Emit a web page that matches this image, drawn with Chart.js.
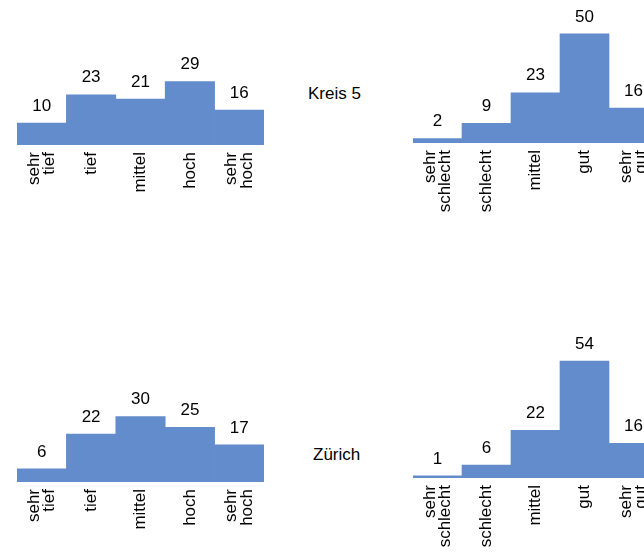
<!DOCTYPE html>
<html>
<head>
<meta charset="utf-8">
<script src="https://cdn.jsdelivr.net/npm/chart.js@4"></script>
<style>
  html, body { margin: 0; padding: 0; background: #fff; overflow: hidden; }
  body { position: relative; width: 644px; height: 558px; font-family: "Liberation Sans", Arial, sans-serif; }
  canvas { position: absolute; }
  .place { position: absolute; font-size: 17px; line-height: 20px; color: #000; }
</style>
</head>
<body>
<canvas id="kreisLeft" width="280" height="225" style="left:0;top:0"></canvas>
<canvas id="kreisRight" width="260" height="223" style="left:400px;top:0"></canvas>
<canvas id="zhLeft" width="280" height="242" style="left:0;top:320px"></canvas>
<canvas id="zhRight" width="260" height="238" style="left:400px;top:320px"></canvas>
<div class="place" style="left:308px;top:84px">Kreis 5</div>
<div class="place" style="left:313px;top:445px">Zürich</div>

<script>
// categories
const levelLabels = [["sehr", "tief"], "tief", "mittel", "hoch", ["sehr", "hoch"]];
const ratingLabels = [["sehr", "schlecht"], "schlecht", "mittel", "gut", ["sehr", "gut"]];

// percentages
const kreis5Level = [10, 23, 21, 29, 16];
const kreis5Rating = [2, 9, 23, 50, 16];
const zuerichLevel = [6, 22, 30, 25, 17];
const zuerichRating = [1, 6, 22, 54, 16];

const FONT = "'Liberation Sans', Arial, sans-serif";
const BAR = "rgb(99, 140, 204)";
const LINE_H = 15.3;

// value above each bar
const valueLabels = {
  id: "valueLabels",
  afterDatasetsDraw(chart) {
    const ctx = chart.ctx;
    const meta = chart.getDatasetMeta(0);
    const values = chart.data.datasets[0].data;
    ctx.save();
    ctx.font = "17px " + FONT;
    ctx.fillStyle = "#000";
    ctx.textAlign = "center";
    ctx.textBaseline = "middle";
    meta.data.forEach((bar, i) => {
      ctx.fillText(values[i], bar.x, bar.y - 17);
    });
    ctx.restore();
  },
};

// center two-line rotated labels on their tick
const centerLines = {
  id: "centerLines",
  beforeDraw(chart) {
    const sc = chart.scales.x;
    sc.getLabelItems(chart.chartArea).forEach((it) => {
      if (Array.isArray(it.label)) {
        it.options.translation[0] -= ((it.label.length - 1) * LINE_H) / 2;
      }
    });
  },
};

function makeChart(id, labels, values, pad) {
  const ctx = document.getElementById(id).getContext("2d");
  return new Chart(ctx, {
    type: "bar",
    data: {
      labels: labels,
      datasets: [
        {
          data: values,
          backgroundColor: BAR,
          borderWidth: 0,
          barPercentage: 1,
          categoryPercentage: 1,
        },
      ],
    },
    options: {
      responsive: false,
      animation: false,
      layout: { padding: pad },
      plugins: { legend: { display: false }, tooltip: { enabled: false } },
      scales: {
        x: {
          grid: { display: false, drawTicks: false },
          border: { display: false },
          afterFit: (s) => {
            s.height = 80;
            s.paddingLeft = 0;
            s.paddingRight = 0;
          },
          ticks: {
            autoSkip: false,
            maxRotation: 90,
            minRotation: 90,
            padding: 7,
            color: "#000",
            font: { family: FONT, size: 17, lineHeight: 0.9 },
          },
        },
        y: { display: false, min: 0, max: 60 },
      },
    },
    plugins: [valueLabels, centerLines],
  });
}

makeChart("kreisLeft", levelLabels, kreis5Level, { left: 17, right: 16, top: 14, bottom: 0 });
makeChart("kreisRight", ratingLabels, kreis5Rating, { left: 13, right: 2, top: 12, bottom: 0 });
makeChart("zhLeft", levelLabels, zuerichLevel, { left: 17, right: 16, top: 31, bottom: 0 });
makeChart("zhRight", ratingLabels, zuerichRating, { left: 13, right: 2, top: 28, bottom: 0 });
</script>
</body>
</html>
